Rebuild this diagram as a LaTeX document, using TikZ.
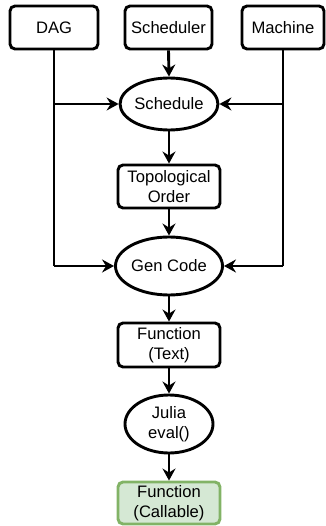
\documentclass[tikz,border=0pt]{standalone}
\usepackage{fontspec}
\setmainfont{Liberation Sans}
\usetikzlibrary{arrows.meta,shapes.geometric}
\begin{document}
\begin{tikzpicture}[x=1pt,y=-1pt,
  every node/.style={font=\fontsize{16.6}{20}\selectfont, inner sep=0pt, align=center},
  box/.style={draw, line width=2.9pt, rounded corners=5pt, fill=white},
  oval/.style={draw, line width=2.9pt, ellipse, fill=white},
  done/.style={box, draw={rgb,255:red,130;green,179;blue,102}, fill={rgb,255:red,213;green,232;blue,212}},
  link/.style={line width=2.9pt, -{Stealth[length=12pt,width=13pt,inset=4pt]}},
  wire/.style={line width=2.9pt}]
\useasboundingbox (0,0) rectangle (325,526);

% inputs
\node[box, minimum width=88pt, minimum height=43pt] (dag) at (54,27.5) {DAG};
\node[box, minimum width=87pt, minimum height=43pt] (sched) at (168.5,27.5) {Scheduler};
\node[box, minimum width=82pt, minimum height=43pt] (mach) at (283,27.5) {Machine};

% pipeline
\node[oval, minimum width=88pt, minimum height=52pt] (schedule) at (169,104) {Schedule};
\node[box, minimum width=102pt, minimum height=43pt] (topo) at (169,186.5) {Topological\\Order};
\node[oval, minimum width=88pt, minimum height=58pt] (gen) at (169,266) {Gen Code};
\node[box, minimum width=102pt, minimum height=44pt] (ftext) at (169,345) {Function\\(Text)};
\node[oval, minimum width=88pt, minimum height=58pt] (julia) at (169,424) {Julia\\eval()};
\node[done, minimum width=102pt, minimum height=42pt] (fcall) at (169,503) {Function\\(Callable)};

% side rails
\coordinate (dagA) at (dag.south |- schedule.west);
\coordinate (dagB) at (dag.south |- gen.west);
\coordinate (machA) at (mach.south |- schedule.east);
\coordinate (machB) at (mach.south |- gen.east);

\draw[wire] (dag.south) -- (dagB);
\draw[link] (dagA) -- (schedule.west);
\draw[link] (dagB) -- (gen.west);
\draw[wire] (mach.south) -- (machB);
\draw[link] (machA) -- (schedule.east);
\draw[link] (machB) -- (gen.east);

% main flow
\draw[link] (sched.south) -- (schedule.north);
\draw[link] (schedule.south) -- (topo.north);
\draw[link] (topo.south) -- (gen.north);
\draw[link] (gen.south) -- (ftext.north);
\draw[link] (ftext.south) -- (julia.north);
\draw[link] (julia.south) -- (fcall.north);
\end{tikzpicture}
\end{document}
